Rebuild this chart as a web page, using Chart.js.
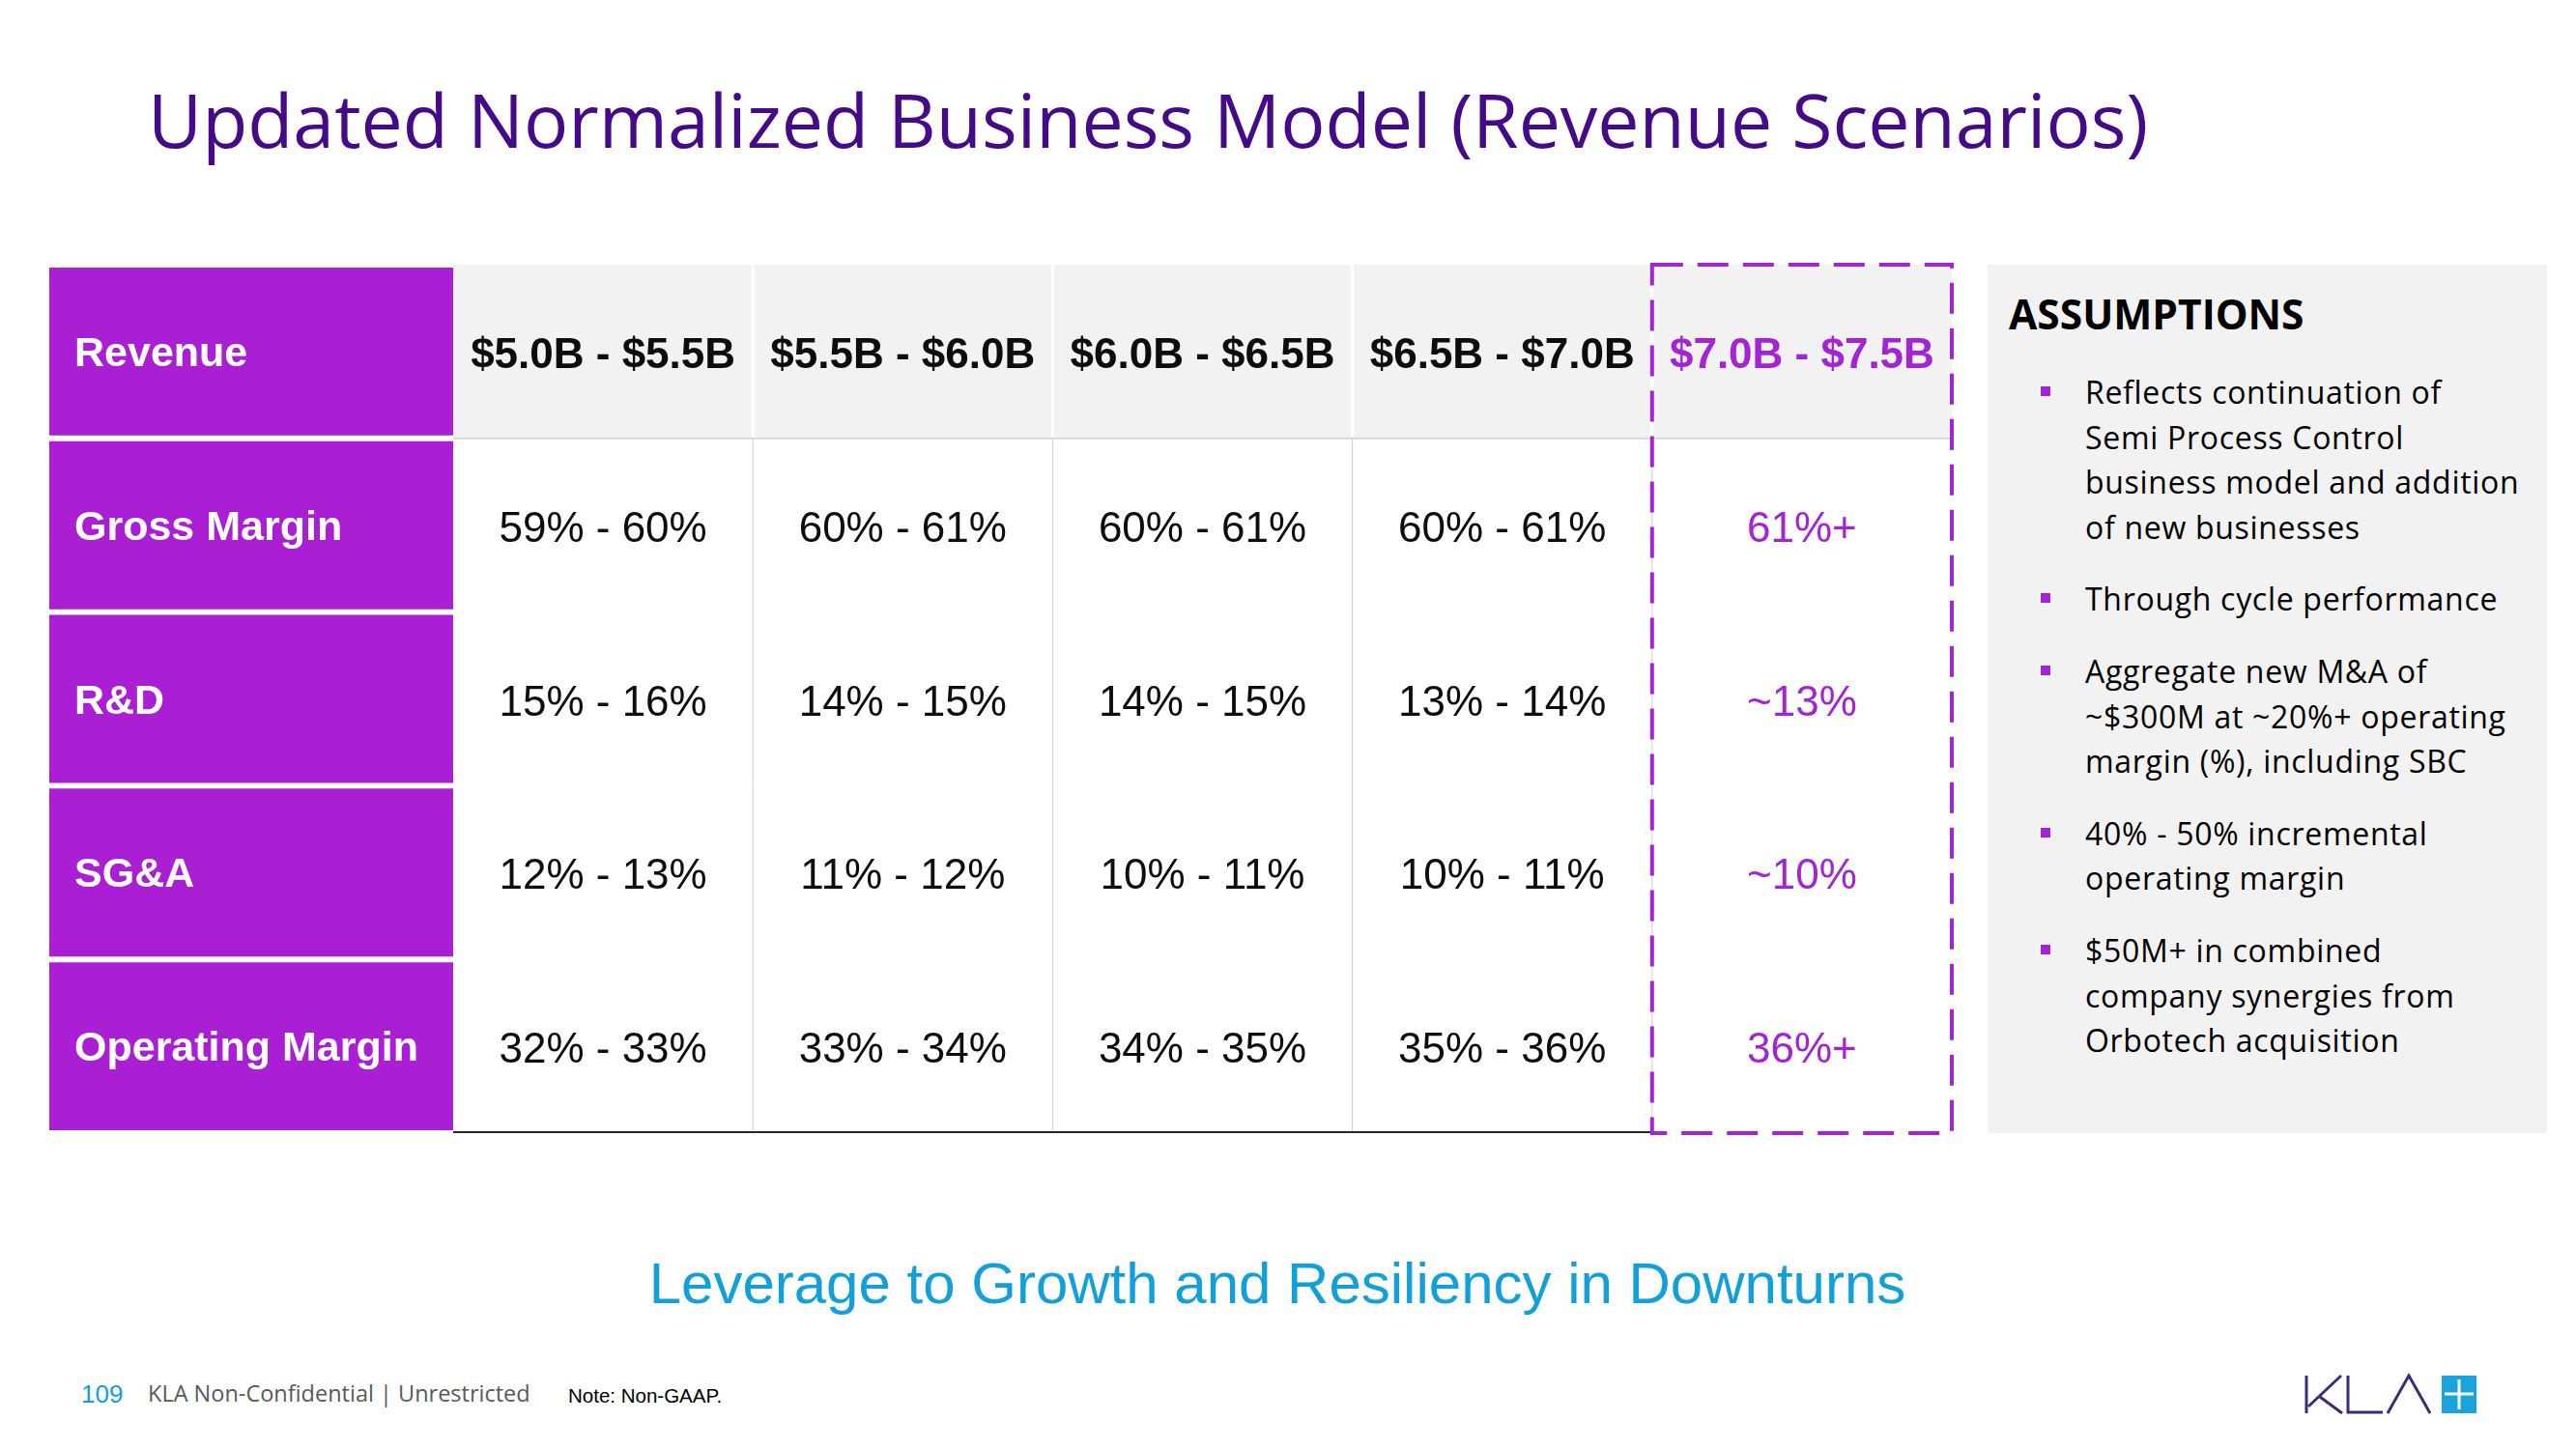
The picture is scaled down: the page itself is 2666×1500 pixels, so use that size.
<!DOCTYPE html>
<html lang="en">
<head>
  <meta charset="UTF-8">
  <title>Updated Normalized Business Model (Revenue Scenarios)</title>
  <script src="https://cdn.jsdelivr.net/npm/chart.js@4.4.4/dist/chart.umd.min.js"></script>
  <style>
    html, body { margin: 0; padding: 0; background: #fff; }
    body {
      width: 2666px;
      height: 1500px;
      position: relative;
      overflow: hidden;
      font-family: 'Open Sans', sans-serif;
    }
    .title {
      position: absolute;
      left: 153px;
      top: 85px;
      font-size: 77px;
      line-height: 1;
      color: #440a88;
      white-space: nowrap;
    }
    #tableWrap {
      position: absolute;
      left: 47px;
      top: 270px;
      width: 1977px;
      height: 907px;
    }
    .assumptions {
      position: absolute;
      left: 2057px;
      top: 274px;
      width: 579px;
      height: 899px;
      background: #f2f2f2;
    }
    .assumptions h2 {
      position: absolute;
      left: 22px;
      top: 30px;
      margin: 0;
      font-size: 42.5px;
      line-height: 1;
      font-weight: 700;
      color: #000;
    }
    .assumptions ul {
      list-style: none;
      position: absolute;
      left: 101px;
      top: 109px;
      margin: 0;
      padding: 0;
    }
    .assumptions li {
      position: relative;
      font-size: 32px;
      line-height: 46.6px;
      letter-spacing: 0.7px;
      color: #000;
      white-space: nowrap;
      margin-bottom: 28px;
    }
    .assumptions li::before {
      content: '';
      position: absolute;
      left: -46px;
      top: 17px;
      width: 10px;
      height: 10px;
      background: #a424d4;
    }
    .tagline {
      position: absolute;
      left: 1322px;
      top: 1299px;
      transform: translateX(-50%);
      font-family: 'Liberation Sans', sans-serif;
      font-size: 60px;
      line-height: 1;
      color: #12a0da;
      white-space: nowrap;
    }
    .footer { position: absolute; line-height: 1; white-space: nowrap; }
    .page-no { left: 84px; top: 1430px; font-family: 'Liberation Sans', sans-serif; font-size: 26px; color: #12a0da; }
    .conf { left: 153px; top: 1431px; font-size: 23.5px; color: #595959; }
    .note { left: 588px; top: 1435px; font-family: 'Liberation Sans', sans-serif; font-size: 20.5px; color: #000; }
    .logo { position: absolute; left: 2380px; top: 1420px; }
  </style>
</head>
<body>
  <div class="title">Updated Normalized Business Model (Revenue Scenarios)</div>

  <div id="tableWrap"><canvas id="modelTable"></canvas></div>

  <div class="assumptions">
    <h2>ASSUMPTIONS</h2>
    <ul>
      <li>Reflects continuation of<br>Semi Process Control<br>business model and addition<br>of new businesses</li>
      <li>Through cycle performance</li>
      <li>Aggregate new M&amp;A of<br>~$300M at ~20%+ operating<br>margin (%), including SBC</li>
      <li>40% - 50% incremental<br>operating margin</li>
      <li>$50M+ in combined<br>company synergies from<br>Orbotech acquisition</li>
    </ul>
  </div>

  <div class="tagline">Leverage to Growth and Resiliency in Downturns</div>

  <div class="footer page-no">109</div>
  <div class="footer conf">KLA Non-Confidential | Unrestricted</div>
  <div class="footer note">Note: Non-GAAP.</div>

  <svg class="logo" width="190" height="50" viewBox="0 0 190 50">
    <g fill="none" stroke="#3d2b7a" stroke-width="3">
      <polyline points="7,4 7,43"/>
      <polyline points="43,4 9,36"/>
      <polyline points="21,26 44,43"/>
      <polyline points="50,4 50,42 86,42"/>
      <polyline points="91,43 113,4 135,43"/>
    </g>
    <rect x="147" y="4" width="36" height="39" fill="#1aa3dc"/>
    <g stroke="#fff" stroke-width="3">
      <line x1="165" y1="8" x2="165" y2="39"/>
      <line x1="150" y1="23" x2="180" y2="23"/>
    </g>
  </svg>

  <script>
    // table content
    const rowLabels = ['Revenue', 'Gross Margin', 'R&D', 'SG&A', 'Operating Margin'];
    const revenueScenarios = ['$5.0B - $5.5B', '$5.5B - $6.0B', '$6.0B - $6.5B', '$6.5B - $7.0B', '$7.0B - $7.5B'];
    const grossMargin = ['59% - 60%', '60% - 61%', '60% - 61%', '60% - 61%', '61%+'];
    const rdPercent = ['15% - 16%', '14% - 15%', '14% - 15%', '13% - 14%', '~13%'];
    const sgaPercent = ['12% - 13%', '11% - 12%', '10% - 11%', '10% - 11%', '~10%'];
    const operatingMargin = ['32% - 33%', '33% - 34%', '34% - 35%', '35% - 36%', '36%+'];
    const tableRows = [revenueScenarios, grossMargin, rdPercent, sgaPercent, operatingMargin];

    const COLS = revenueScenarios.length;
    const LABEL_SPAN = 1.3475; // label column is a bit wider than a scenario column
    const PURPLE = '#aa1fd3';
    const ACCENT = '#a424d4';
    const FONT = "'Liberation Sans', Arial, sans-serif";

    function line(ctx, x1, y1, x2, y2) {
      ctx.beginPath();
      ctx.moveTo(x1, y1);
      ctx.lineTo(x2, y2);
      ctx.stroke();
    }

    const tablePlugin = {
      id: 'tableGrid',
      afterDatasetsDraw(chart) {
        const { ctx, chartArea, scales: { x, y } } = chart;
        const colLeft = i => x.getPixelForValue(LABEL_SPAN + i);
        const headBottom = (y.getPixelForValue(0) + y.getPixelForValue(1)) / 2;
        const top = chartArea.top, bottom = chartArea.bottom;
        ctx.save();

        // header separators (white) and body separators (light grey)
        for (let i = 1; i < COLS; i++) {
          ctx.strokeStyle = '#ffffff';
          ctx.lineWidth = 3;
          line(ctx, colLeft(i), top, colLeft(i), headBottom);
          ctx.strokeStyle = '#d0d0d0';
          ctx.lineWidth = 1;
          line(ctx, colLeft(i), headBottom, colLeft(i), bottom);
        }
        ctx.strokeStyle = '#d9d9d9';
        ctx.lineWidth = 2;
        line(ctx, colLeft(0), headBottom, colLeft(COLS), headBottom);
        ctx.strokeStyle = '#262626';
        ctx.lineWidth = 2;
        line(ctx, colLeft(0), bottom - 1, colLeft(COLS - 1), bottom - 1);

        // row labels
        ctx.textAlign = 'left';
        ctx.textBaseline = 'alphabetic';
        ctx.fillStyle = '#ffffff';
        ctx.font = 'bold 43px ' + FONT;
        rowLabels.forEach((label, r) => {
          ctx.fillText(label, x.getPixelForValue(0) + 26, y.getPixelForValue(r) + 15);
        });

        // cell text
        ctx.textAlign = 'center';
        tableRows.forEach((vals, r) => {
          ctx.font = (r === 0 ? 'bold ' : '') + '44px ' + FONT;
          vals.forEach((v, c) => {
            ctx.fillStyle = c === COLS - 1 ? ACCENT : '#0d0d0d';
            ctx.fillText(v, x.getPixelForValue(LABEL_SPAN + c + 0.5), y.getPixelForValue(r) + 17);
          });
        });

        // highlighted scenario
        ctx.setLineDash([32, 15]);
        ctx.strokeStyle = ACCENT;
        ctx.lineWidth = 4;
        ctx.strokeRect(colLeft(COLS - 1), top, colLeft(COLS) - colLeft(COLS - 1), bottom - top);
        ctx.restore();
      }
    };

    new Chart(document.getElementById('modelTable'), {
      type: 'bar',
      data: {
        labels: rowLabels,
        datasets: [
          {
            label: 'labels',
            data: rowLabels.map(() => [0, LABEL_SPAN]),
            backgroundColor: PURPLE,
            barPercentage: 0.967,
            categoryPercentage: 1,
            borderSkipped: false
          },
          {
            label: 'header',
            data: rowLabels.map((r, i) => i === 0 ? [LABEL_SPAN, LABEL_SPAN + COLS] : null),
            backgroundColor: '#f2f2f2',
            barPercentage: 1,
            categoryPercentage: 1,
            borderSkipped: false
          }
        ]
      },
      options: {
        indexAxis: 'y',
        responsive: true,
        maintainAspectRatio: false,
        animation: false,
        events: [],
        layout: { padding: 4 },
        datasets: { bar: { grouped: false } },
        scales: {
          x: { type: 'linear', min: 0, max: LABEL_SPAN + COLS, display: false },
          y: { type: 'category', offset: true, display: false }
        },
        plugins: {
          legend: { display: false },
          tooltip: { enabled: false }
        }
      },
      plugins: [tablePlugin]
    });
  </script>
</body>
</html>
